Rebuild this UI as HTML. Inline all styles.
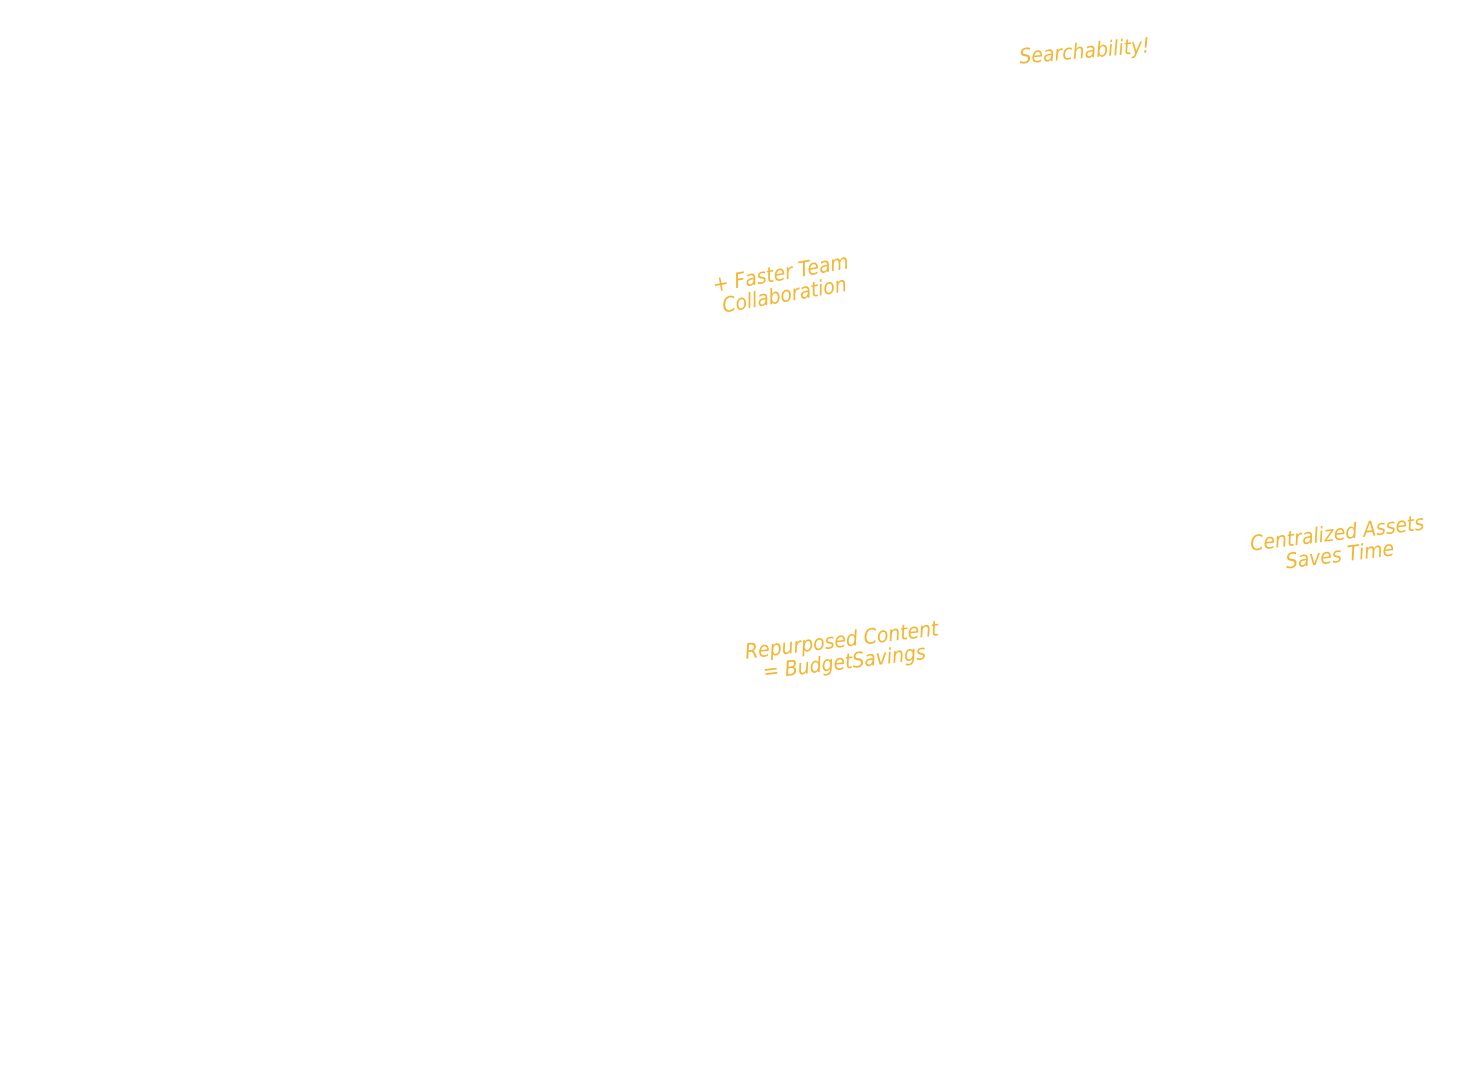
<!DOCTYPE html>
<html><head><meta charset="utf-8"><style>
html,body{margin:0;padding:0;background:#fff;width:1464px;height:1069px;overflow:hidden;position:relative}
.t{position:absolute;color:#F2B631;font-family:"DejaVu Sans Condensed","DejaVu Sans","Liberation Sans",sans-serif;font-style:italic;font-size:21px;line-height:22px;text-align:center;white-space:nowrap;transform-origin:center center}
</style></head><body>
<div class="t" style="left:1012px;top:40px;width:145px;transform:rotate(-5deg)">Searchability!</div>
<div class="t" style="left:700px;top:262px;width:165px;transform:rotate(-10deg)">+ Faster Team<br>Collaboration</div>
<div class="t" style="left:1236px;top:522px;width:205px;transform:rotate(-7deg)">Centralized Assets<br>Saves Time</div>
<div class="t" style="left:738px;top:629px;width:210px;transform:rotate(-7deg)">Repurposed Content<br>= BudgetSavings</div>
</body></html>
